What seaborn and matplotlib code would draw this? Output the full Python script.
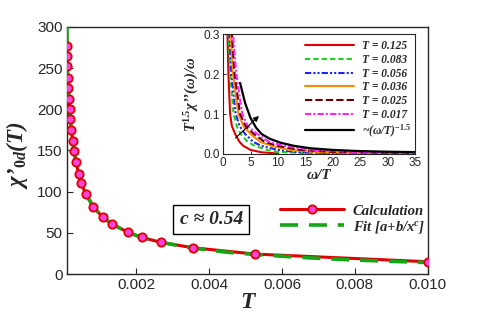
import matplotlib
matplotlib.use("Agg")
import matplotlib.pyplot as plt
import seaborn as sns

# main curve: chi'_0d(T)
T_calc = [0.0001, 0.000105, 0.00011, 0.000119, 0.000136, 0.000155, 0.000174, 0.00019,
          0.00022, 0.000256, 0.000292, 0.000347, 0.00042, 0.00049, 0.00062, 0.00082,
          0.00108, 0.00135, 0.00178, 0.00215, 0.00268, 0.00356, 0.00526, 0.0100]
chi_calc = [277, 265, 252, 238, 226, 213, 200, 188, 175, 161.5, 149, 135.6, 122, 110,
            97, 82, 69, 60.4, 50.6, 44.6, 38.5, 32, 24.3, 15]

# fit a + b/x^c
T_fit = [0.0001, 0.000105, 0.000119, 0.000155, 0.00019, 0.000256, 0.000347, 0.00049,
         0.00062, 0.00082, 0.00108, 0.00135, 0.00178, 0.00215, 0.00268, 0.00356, 0.0045,
         0.00526, 0.0065, 0.008, 0.0100]
chi_fit = [300, 272, 240, 214, 189, 162, 136, 110, 97, 82, 69, 60.5, 50.5, 44.5, 38.5,
           31.5, 26.5, 23.8, 20.3, 17.0, 14.0]

# inset: T^1.5 chi''(w)/w vs w/T
x_0125 = [0.6, 0.8, 0.97, 1.28, 1.6, 2.2, 3.0, 3.7, 5.0, 7.0, 10.0]
y_0125 = [0.45, 0.3, 0.2, 0.1, 0.07, 0.05, 0.03, 0.02, 0.01, 0.004, 0.001]
x_0083 = [0.76, 1.0, 1.3, 1.9, 2.6, 3.2, 4.5, 5.8, 8.0, 10.0, 15.0, 20.0, 35.0]
y_0083 = [0.45, 0.3, 0.2, 0.1, 0.065, 0.05, 0.03, 0.02, 0.01, 0.005, 0.002, 0.001, 0.0003]
x_0056 = [0.88, 1.15, 1.5, 2.3, 3.0, 4.0, 5.5, 7.0, 10.0, 13.0, 20.0, 35.0]
y_0056 = [0.45, 0.3, 0.2, 0.1, 0.07, 0.05, 0.03, 0.02, 0.01, 0.005, 0.002, 0.0005]
x_0036 = [1.07, 1.4, 1.8, 2.8, 3.7, 5.0, 6.8, 8.9, 12.0, 17.0, 25.0, 35.0]
y_0036 = [0.45, 0.3, 0.2, 0.1, 0.07, 0.05, 0.03, 0.02, 0.01, 0.005, 0.002, 0.001]
x_0025 = [1.22, 1.6, 2.1, 3.1, 4.1, 5.6, 7.6, 10.0, 14.0, 20.0, 28.0, 35.0]
y_0025 = [0.45, 0.3, 0.2, 0.1, 0.07, 0.05, 0.03, 0.02, 0.01, 0.005, 0.003, 0.002]
x_0017 = [1.37, 1.8, 2.4, 3.5, 4.5, 6.2, 8.4, 11.3, 16.0, 24.0, 35.0]
y_0017 = [0.45, 0.3, 0.2, 0.1, 0.07, 0.05, 0.03, 0.02, 0.01, 0.005, 0.003]
x_law = [3.1, 4.0, 5.0, 6.0, 7.0, 8.5, 10.5, 13.0, 16.0, 20.0, 25.0, 30.0, 35.0]
y_law = [0.178, 0.128, 0.09, 0.066, 0.05, 0.038, 0.028, 0.02, 0.014, 0.01, 0.007, 0.0055, 0.0045]

inset_labels = ["T = 0.125", "T = 0.083", "T = 0.056", "T = 0.036", "T = 0.025", "T = 0.017"]

sns.set_style("ticks")
plt.rcParams["font.family"] = ["Liberation Sans", "DejaVu Sans"]
plt.rcParams["mathtext.fontset"] = "custom"
plt.rcParams["mathtext.it"] = "Liberation Serif:italic:bold"
plt.rcParams["mathtext.rm"] = "Liberation Serif:bold"
plt.rcParams["mathtext.bf"] = "Liberation Serif:italic:bold"

serif_bi = {"family": "Liberation Serif", "style": "italic", "weight": "bold"}

fig = plt.figure(figsize=(4.85, 3.24), dpi=100)
ax = fig.add_axes([0.138, 0.154, 0.744, 0.763])

sns.lineplot(x=T_calc, y=chi_calc, ax=ax, color="#dd0000", lw=2.2, estimator=None,
             sort=False, zorder=2)
sns.lineplot(x=T_fit, y=chi_fit, ax=ax, color="#13a813", lw=2.6, estimator=None,
             sort=False, zorder=3, dashes=False, linestyle=(0, (5, 3)))
ax.plot(T_calc, chi_calc, ls="none", marker="o", ms=6, mfc="#ff44dd", mec="#dd0000",
        mew=1.3, zorder=4)

ax.set_xlim(0.0001, 0.010)
ax.set_ylim(0, 300)
ax.set_xticks([0.002, 0.004, 0.006, 0.008, 0.010])
ax.set_xticklabels(["0.002", "0.004", "0.006", "0.008", "0.010"])
ax.set_yticks([0, 50, 100, 150, 200, 250, 300])
ax.tick_params(direction="in", labelsize=11, length=4, width=0.8, pad=3)
for s in ax.spines.values():
    s.set_linewidth(1.0)
ax.set_xlabel("T", fontsize=17, labelpad=0, fontdict=serif_bi)
ax.set_ylabel(r"χ’$_{0d}$(T)", fontsize=16.5, fontdict=serif_bi)
ax.yaxis.set_label_coords(-0.102, 0.48)

calc_h, = plt.plot([], [], color="#dd0000", lw=2.2, marker="o", ms=6, mfc="#ff44dd",
                   mec="#dd0000", mew=1.3)
fit_h, = plt.plot([], [], color="#13a813", lw=2.6, ls=(0, (5, 3)))
ax.legend([calc_h, fit_h], ["Calculation", r"Fit [a+b/x$^c$]"], loc="center left",
          bbox_to_anchor=(0.554, 0.22), frameon=False, handlelength=4.4,
          handletextpad=0.6, labelspacing=0.1, prop={**serif_bi, "size": 10.5})

ax.text(0.40, 0.221, "c ≈ 0.54", transform=ax.transAxes, ha="center", va="center",
        fontsize=14, **serif_bi,
        bbox=dict(boxstyle="square,pad=0.32", fc="white", ec="black", lw=1.0))

# inset
ins = fig.add_axes([0.460, 0.525, 0.396, 0.369])
styles = [
    (x_0125, y_0125, "#dd0000", "-"),
    (x_0083, y_0083, "#22cc22", (0, (2.5, 1.5))),
    (x_0056, y_0056, "#2222ee", (0, (3, 1, 1, 1, 1, 1))),
    (x_0036, y_0036, "#ff8800", "-"),
    (x_0025, y_0025, "#660000", (0, (3.5, 1.5))),
    (x_0017, y_0017, "#ff22ff", (0, (3, 1, 1, 1))),
]
handles = []
for (xs, ys, c, ls), lab in zip(styles, inset_labels):
    h, = ins.plot(xs, ys, color=c, lw=1.5, ls=ls)
    handles.append(h)
h, = ins.plot(x_law, y_law, color="black", lw=1.6)
handles.append(h)
ins.annotate("", xy=(6.9, 0.1), xytext=(1.9, 0.035),
             arrowprops=dict(arrowstyle="-|>", color="black", lw=0.8, mutation_scale=8))
ins.set_xlim(0, 35)
ins.set_ylim(0, 0.3)
ins.set_xticks(range(0, 36, 5))
ins.set_yticks([0.0, 0.1, 0.2, 0.3])
ins.set_yticklabels(["0.0", "0.1", "0.2", "0.3"])
ins.tick_params(direction="in", labelsize=8.5, length=2.5, width=0.7, pad=2)
ins.set_xlabel(r"ω/T", fontsize=11, labelpad=0, fontdict=serif_bi)
ins.set_ylabel(r"T$^{1.5}$χ’’(ω)/ω", fontsize=10.5, labelpad=2, fontdict=serif_bi)
ins.legend(handles, inset_labels + [r"~(ω/T)$^{-1.5}$"], loc="upper left",
           bbox_to_anchor=(0.40, 0.99), frameon=False, handlelength=4.3,
           handletextpad=0.7, labelspacing=0.15, borderaxespad=0,
           prop={**serif_bi, "size": 8.3})

fig.savefig("out.png", dpi=100)
